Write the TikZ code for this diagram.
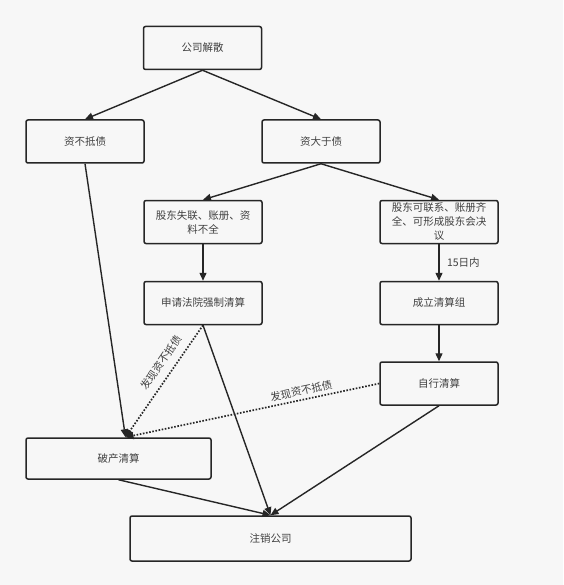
\documentclass[tikz,border=0pt]{standalone}
\usepackage{fontspec}
\setmainfont{Noto Sans CJK SC}
\usetikzlibrary{arrows.meta}

\begin{document}
\begin{tikzpicture}[x=1pt,y=-1pt,
  box/.style={draw=black!85,line width=1.5pt,rounded corners=2pt,inner sep=0pt,minimum width=118pt,minimum height=43pt,align=center,font=\fontsize{10.5}{14}\selectfont,text=black!75},
  flow/.style={line width=1.4pt,draw=black!85,-{Triangle[length=8pt,width=7pt]}},
  found/.style={flow,line width=1.7pt,dash pattern=on 1.6pt off 1.6pt},
  lbl/.style={font=\fontsize{10.5}{12}\selectfont,text=black!75}]
\useasboundingbox [fill=black!3] (0,0) rectangle (563,585);

%%% STEPS %%%
\node [box] at (202.5,48) (dissolve) {公司解散};
\node [box] at (85,141.5) (insolvent) {资不抵债};
\node [box] at (321,141.5) (solvent) {资大于债};
\node [box] at (203,222) (lost) {股东失联、账册、资\\料不全};
\node [box] at (439,222) (reach) {股东可联系、账册齐\\全、可形成股东会决\\议};
\node [box] at (203,303) (court) {申请法院强制清算};
\node [box] at (439,303) (group) {成立清算组};
\node [box] at (439,383.5) (self) {自行清算};
\node [box,minimum width=185pt,minimum height=41pt] at (118.5,458.5) (bankrupt) {破产清算};
\node [box,minimum width=281pt,minimum height=45pt] at (270.5,538.5) (cancel) {注销公司};

\coordinate (hit) at ([xshift=7pt]bankrupt.north);

%%% ARROWS %%%
\draw [flow] (dissolve.south) -- (insolvent.north);
\draw [flow] (dissolve.south) -- (solvent.north);
\draw [flow] (solvent.south) -- (lost.north);
\draw [flow] (solvent.south) -- (reach.north);
\draw [flow] (lost) -- (court);
\draw [flow] (reach) -- node [lbl,right=4pt] {15日内} (group);
\draw [flow] (group) -- (self);
\draw [flow] (insolvent.south) -- (hit);

\draw [flow] (court.south) -- (cancel.north);
\draw [flow] (self.south) -- (cancel.north);
\draw [flow] (bankrupt.south) -- (cancel.north);

%%% FOUND INSOLVENT %%%
\draw [found] (court.south) -- node [lbl,sloped,above=4pt,pos=0.4] {发现资不抵债} (hit);
\draw [found] (self.west) -- node [lbl,sloped,above,pos=0.3] {发现资不抵债} (hit);
\end{tikzpicture}
\end{document}
